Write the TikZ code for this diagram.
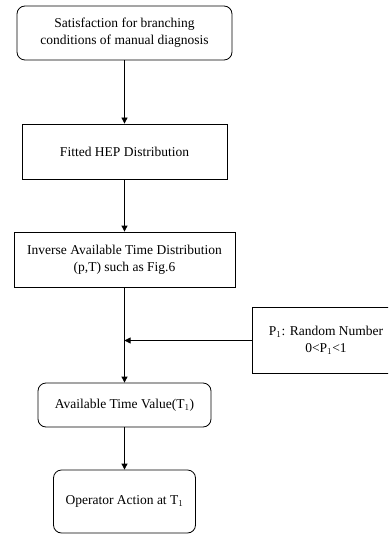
\documentclass[tikz,border=0pt]{standalone}
\usepackage{fontspec}
\setmainfont{Liberation Serif}
\usetikzlibrary{arrows.meta}

\begin{document}
\begin{tikzpicture}[x=1pt, y=-1pt, font=\fontsize{13.5}{17}\selectfont,
    roundbox/.style={draw, thick, rounded corners=8pt, align=center, inner sep=0pt},
    sqbox/.style={draw, thick, align=center, inner sep=0pt},
    flow/.style={-{Triangle[length=6pt, width=6pt]}, thick}]
    \clip (0,0) rectangle (388,534);
    \node[roundbox, minimum width=215pt, minimum height=54pt] at (124.5,33) (sat) {Satisfaction for branching\\ conditions of manual diagnosis};
    \node[sqbox, minimum width=205pt, minimum height=55pt] at (124.5,151.5) (fit) {Fitted HEP Distribution};
    \draw[flow] (sat) to (fit);
    \node[sqbox, minimum width=221pt, minimum height=55pt] at (124.5,259.5) (inv) {Inverse Available Time Distribution\\ (p,T) such as Fig.6};
    \draw[flow] (fit) to (inv);
    \node[align=center, inner sep=0pt, minimum width=146pt, minimum height=65pt] at (326,340.5) (rand) {P$_1$: Random Number\\ 0<P$_1$<1};
    % open frame, its right side runs off the page
    \draw[thick] ([xshift=80pt]rand.north east) -- (rand.north west) -- (rand.south west) -- ([xshift=80pt]rand.south east);
    \node[roundbox, minimum width=173pt, minimum height=44pt] at (124.5,405) (avail) {Available Time Value(T$_1$)};
    \coordinate (join) at (inv.south |- rand.west);
    \draw[flow] (rand) to (join);
    \draw[flow] (inv) to (avail);
    \node[roundbox, minimum width=142pt, minimum height=63pt] at (124.5,501.5) (oper) {Operator Action at T$_1$};
    \draw[flow] (avail) to (oper);
\end{tikzpicture}
\end{document}
